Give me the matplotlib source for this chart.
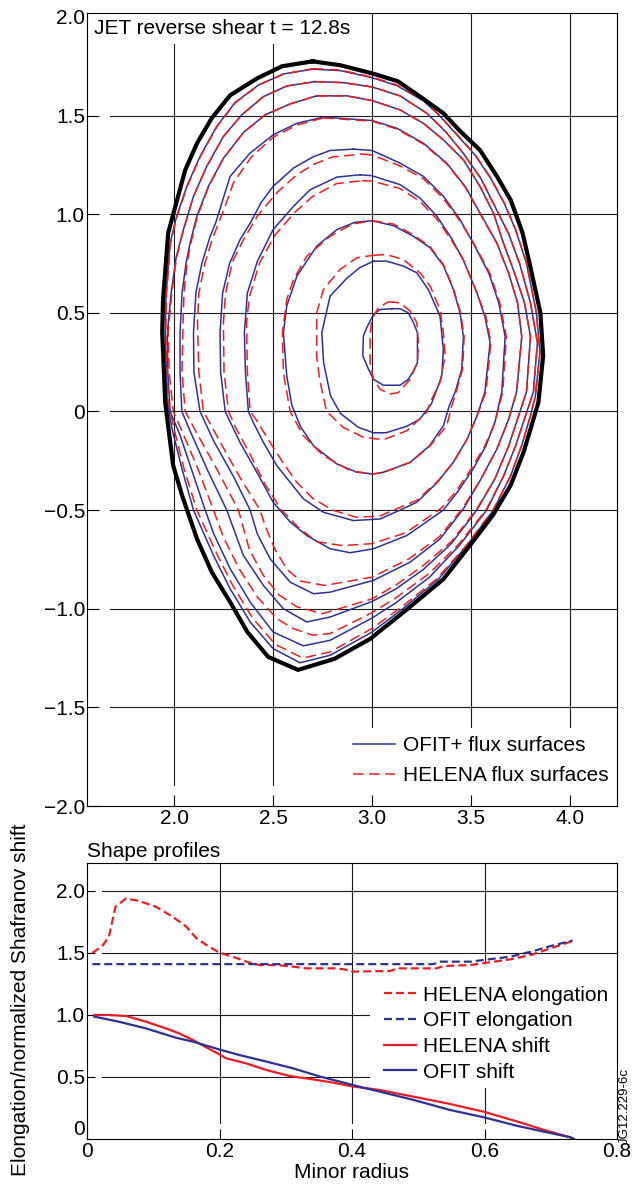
import matplotlib
matplotlib.use("Agg")
import matplotlib.pyplot as plt
from matplotlib.patches import Rectangle

plt.rcParams['font.family'] = ['Liberation Sans', 'DejaVu Sans']
plt.rcParams['font.size'] = 15

BLUE = '#2e3192'
RED = '#ed1c24'
GRID = '#1a1a1a'

# ---- top panel: flux surfaces (R, Z) ----
boundary = [(2.70, 1.775), (2.84, 1.755), (3.00, 1.714), (3.13, 1.674), (3.24, 1.598), (3.36, 1.512),
            (3.44, 1.426), (3.545, 1.325), (3.63, 1.193), (3.70, 1.072), (3.76, 0.905), (3.80, 0.73),
            (3.85, 0.50), (3.864, 0.283), (3.84, 0.046), (3.81, -0.056), (3.765, -0.207), (3.70, -0.374),
            (3.61, -0.526), (3.495, -0.678), (3.36, -0.85), (3.18, -1.00), (2.99, -1.153), (2.81, -1.254),
            (2.626, -1.31), (2.475, -1.244), (2.37, -1.118), (2.283, -0.966), (2.19, -0.814), (2.116, -0.647),
            (2.04, -0.425), (1.995, -0.273), (1.955, 0.046), (1.94, 0.40), (1.944, 0.566), (1.97, 0.905),
            (2.015, 1.072), (2.056, 1.224), (2.116, 1.36), (2.19, 1.487), (2.283, 1.603), (2.42, 1.689),
            (2.545, 1.75), (2.70, 1.775)]

ofit_1 = [(2.70, 1.735), (2.84, 1.728), (3.00, 1.692), (3.125, 1.652), (3.259, 1.575), (3.34, 1.50),
          (3.43, 1.40), (3.52, 1.30), (3.60, 1.18), (3.67, 1.05), (3.725, 0.92), (3.78, 0.75), (3.83, 0.50),
          (3.848, 0.30), (3.825, 0.08), (3.80, -0.022), (3.755, -0.174), (3.70, -0.325), (3.613, -0.50),
          (3.48, -0.678), (3.335, -0.85), (3.155, -1.00), (3.00, -1.118), (2.788, -1.236), (2.636, -1.274),
          (2.50, -1.202), (2.384, -1.067), (2.283, -0.899), (2.199, -0.73), (2.098, -0.50), (2.04, -0.292),
          (1.99, -0.09), (1.965, 0.05), (1.955, 0.40), (1.96, 0.60), (1.98, 0.855), (2.013, 0.99),
          (2.064, 1.141), (2.131, 1.293), (2.215, 1.445), (2.308, 1.566), (2.426, 1.655), (2.552, 1.711),
          (2.70, 1.735)]
ofit_2 = [(2.71, 1.672), (2.855, 1.667), (3.0, 1.645), (3.141, 1.60), (3.276, 1.512), (3.37, 1.42),
          (3.46, 1.31), (3.55, 1.18), (3.62, 1.04), (3.69, 0.90), (3.745, 0.75), (3.80, 0.55), (3.835, 0.35),
          (3.815, 0.10), (3.775, -0.022), (3.725, -0.174), (3.665, -0.325), (3.579, -0.50), (3.44, -0.68),
          (3.29, -0.84), (3.12, -0.97), (3.0, -1.047), (2.788, -1.16), (2.653, -1.188), (2.50, -1.118),
          (2.384, -0.966), (2.283, -0.797), (2.20, -0.62), (2.157, -0.50), (2.09, -0.30), (2.03, -0.12),
          (1.98, 0.0), (1.968, 0.20), (1.966, 0.40), (1.985, 0.60), (2.01, 0.78), (2.047, 0.922),
          (2.098, 1.091), (2.165, 1.243), (2.249, 1.394), (2.342, 1.504), (2.451, 1.596), (2.569, 1.65),
          (2.71, 1.672)]
ofit_3 = [(2.72, 1.60), (2.872, 1.60), (3.0, 1.576), (3.141, 1.529), (3.259, 1.461), (3.36, 1.377),
          (3.461, 1.276), (3.545, 1.141), (3.613, 1.006), (3.663, 0.855), (3.72, 0.70), (3.77, 0.55),
          (3.80, 0.38), (3.78, 0.10), (3.74, -0.022), (3.69, -0.174), (3.62, -0.342), (3.529, -0.50),
          (3.40, -0.67), (3.26, -0.80), (3.12, -0.90), (3.0, -0.963), (2.788, -1.042), (2.67, -1.067),
          (2.552, -1.0), (2.451, -0.882), (2.35, -0.73), (2.266, -0.50), (2.17, -0.30), (2.09, -0.12),
          (2.039, 0.0), (2.03, 0.20), (2.03, 0.40), (2.04, 0.60), (2.06, 0.75), (2.081, 0.855), (2.115, 0.99),
          (2.173, 1.141), (2.249, 1.284), (2.35, 1.414), (2.46, 1.504), (2.586, 1.559), (2.72, 1.60)]
ofit_4 = [(2.754, 1.492), (3.0, 1.475), (3.125, 1.436), (3.259, 1.36), (3.377, 1.259), (3.47, 1.141),
          (3.545, 1.006), (3.63, 0.855), (3.69, 0.70), (3.735, 0.55), (3.756, 0.38), (3.73, 0.10),
          (3.69, -0.039), (3.63, -0.191), (3.55, -0.342), (3.461, -0.494), (3.343, -0.646), (3.192, -0.764),
          (3.007, -0.856), (2.788, -0.916), (2.704, -0.924), (2.586, -0.865), (2.485, -0.747), (2.42, -0.62),
          (2.384, -0.50), (2.30, -0.33), (2.20, -0.15), (2.131, 0.0), (2.10, 0.20), (2.098, 0.40),
          (2.11, 0.60), (2.14, 0.75), (2.182, 0.888), (2.21, 0.956), (2.245, 1.07), (2.283, 1.192),
          (2.384, 1.31), (2.50, 1.402), (2.62, 1.461), (2.754, 1.492)]
ofit_5 = [(2.906, 1.33), (3.0, 1.323), (3.141, 1.259), (3.259, 1.192), (3.36, 1.091), (3.444, 0.973),
          (3.51, 0.855), (3.59, 0.70), (3.64, 0.55), (3.672, 0.38), (3.655, 0.10), (3.62, -0.056),
          (3.575, -0.174), (3.51, -0.292), (3.43, -0.41), (3.36, -0.50), (3.175, -0.629), (3.007, -0.696),
          (2.889, -0.716), (2.788, -0.696), (2.67, -0.629), (2.586, -0.56), (2.50, -0.46), (2.418, -0.308),
          (2.333, -0.157), (2.258, 0.0), (2.235, 0.20), (2.232, 0.40), (2.245, 0.60), (2.28, 0.75),
          (2.333, 0.871), (2.385, 0.956), (2.44, 1.06), (2.50, 1.141), (2.603, 1.234), (2.70, 1.29),
          (2.788, 1.323), (2.906, 1.33)]
ofit_6 = [(2.939, 1.20), (3.0, 1.195), (3.141, 1.15), (3.242, 1.082), (3.327, 0.99), (3.40, 0.88),
          (3.46, 0.77), (3.53, 0.60), (3.57, 0.48), (3.596, 0.35), (3.57, 0.10), (3.53, -0.022),
          (3.48, -0.14), (3.41, -0.258), (3.33, -0.359), (3.226, -0.46), (3.141, -0.50), (3.04, -0.545),
          (2.906, -0.553), (2.754, -0.511), (2.653, -0.443), (2.586, -0.359), (2.519, -0.275),
          (2.451, -0.157), (2.40, -0.056), (2.375, 0.0), (2.36, 0.20), (2.355, 0.40), (2.37, 0.60),
          (2.42, 0.76), (2.50, 0.922), (2.603, 1.04), (2.687, 1.124), (2.822, 1.188), (2.939, 1.20)]
ofit_7 = [(2.998, 0.967), (3.108, 0.942), (3.209, 0.888), (3.293, 0.83), (3.36, 0.74), (3.41, 0.62),
          (3.444, 0.50), (3.461, 0.38), (3.453, 0.214), (3.42, 0.10), (3.39, 0.029), (3.36, -0.072),
          (3.29, -0.174), (3.192, -0.258), (3.057, -0.308), (3.007, -0.317), (2.923, -0.308),
          (2.822, -0.266), (2.704, -0.174), (2.64, -0.08), (2.595, 0.03), (2.569, 0.181), (2.552, 0.40),
          (2.569, 0.535), (2.62, 0.686), (2.72, 0.838), (2.822, 0.922), (2.914, 0.959), (2.998, 0.967)]
ofit_8 = [(3.007, 0.762), (3.074, 0.762), (3.158, 0.737), (3.226, 0.703), (3.284, 0.618), (3.343, 0.484),
          (3.36, 0.315), (3.352, 0.18), (3.30, 0.04), (3.24, -0.04), (3.175, -0.075), (3.07, -0.108),
          (3.007, -0.108), (2.93, -0.08), (2.84, -0.01), (2.79, 0.08), (2.755, 0.248), (2.746, 0.40),
          (2.788, 0.585), (2.872, 0.675), (2.939, 0.73), (3.007, 0.762)]
ofit_9 = [(3.10, 0.521), (3.141, 0.521), (3.183, 0.50), (3.209, 0.45), (3.229, 0.40), (3.229, 0.248),
          (3.209, 0.206), (3.183, 0.163), (3.141, 0.133), (3.057, 0.133), (3.007, 0.163), (2.982, 0.214),
          (2.953, 0.282), (2.956, 0.383), (2.973, 0.425), (3.007, 0.492), (3.04, 0.517), (3.10, 0.521)]

helena_1 = [(2.70, 1.738), (2.84, 1.731), (3.0, 1.695), (3.125, 1.655), (3.259, 1.578), (3.34, 1.503),
            (3.43, 1.403), (3.52, 1.303), (3.60, 1.183), (3.67, 1.053), (3.725, 0.923), (3.78, 0.753),
            (3.83, 0.50), (3.848, 0.30), (3.825, 0.08), (3.80, -0.022), (3.755, -0.174), (3.70, -0.325),
            (3.61, -0.50), (3.475, -0.68), (3.325, -0.85), (3.15, -0.99), (3.0, -1.10), (2.788, -1.219),
            (2.65, -1.25), (2.51, -1.18), (2.395, -1.045), (2.295, -0.88), (2.21, -0.71), (2.115, -0.50),
            (2.05, -0.29), (2.00, -0.09), (1.97, 0.05), (1.958, 0.40), (1.962, 0.60), (1.982, 0.855),
            (2.015, 0.99), (2.066, 1.141), (2.133, 1.293), (2.217, 1.445), (2.31, 1.566), (2.428, 1.655),
            (2.554, 1.711), (2.70, 1.738)]
helena_2 = [(2.71, 1.672), (2.855, 1.667), (3.0, 1.645), (3.141, 1.60), (3.276, 1.512), (3.37, 1.42),
            (3.46, 1.31), (3.55, 1.18), (3.62, 1.04), (3.69, 0.90), (3.745, 0.75), (3.80, 0.55),
            (3.835, 0.35), (3.815, 0.10), (3.775, -0.022), (3.725, -0.174), (3.665, -0.325), (3.575, -0.50),
            (3.44, -0.67), (3.29, -0.82), (3.12, -0.945), (3.0, -1.02), (2.788, -1.126), (2.70, -1.134),
            (2.60, -1.10), (2.519, -1.05), (2.42, -0.94), (2.33, -0.80), (2.25, -0.64), (2.199, -0.50),
            (2.12, -0.29), (2.04, -0.10), (1.996, 0.0), (1.975, 0.20), (1.97, 0.40), (1.988, 0.60),
            (2.012, 0.78), (2.048, 0.922), (2.098, 1.091), (2.165, 1.243), (2.249, 1.394), (2.342, 1.504),
            (2.451, 1.596), (2.569, 1.65), (2.71, 1.672)]
helena_3 = [(2.72, 1.60), (2.872, 1.60), (3.0, 1.576), (3.141, 1.529), (3.259, 1.461), (3.36, 1.377),
            (3.461, 1.276), (3.545, 1.141), (3.613, 1.006), (3.663, 0.855), (3.72, 0.70), (3.77, 0.55),
            (3.80, 0.38), (3.78, 0.10), (3.74, -0.022), (3.69, -0.174), (3.62, -0.342), (3.525, -0.50),
            (3.40, -0.66), (3.26, -0.78), (3.12, -0.88), (3.0, -0.95), (2.75, -1.025), (2.62, -0.99),
            (2.53, -0.93), (2.45, -0.83), (2.38, -0.70), (2.325, -0.50), (2.22, -0.30), (2.12, -0.12),
            (2.056, 0.0), (2.04, 0.20), (2.045, 0.45), (2.05, 0.60), (2.065, 0.75), (2.085, 0.855),
            (2.118, 0.99), (2.175, 1.141), (2.25, 1.284), (2.35, 1.414), (2.46, 1.504), (2.586, 1.559),
            (2.72, 1.60)]
helena_4 = [(2.754, 1.488), (3.0, 1.472), (3.125, 1.432), (3.259, 1.356), (3.377, 1.255), (3.47, 1.138),
            (3.545, 1.003), (3.63, 0.852), (3.69, 0.70), (3.735, 0.55), (3.756, 0.38), (3.73, 0.10),
            (3.69, -0.039), (3.63, -0.191), (3.55, -0.342), (3.455, -0.494), (3.34, -0.635), (3.19, -0.745),
            (3.0, -0.84), (2.76, -0.882), (2.64, -0.86), (2.57, -0.80), (2.51, -0.70), (2.46, -0.58),
            (2.434, -0.50), (2.33, -0.33), (2.23, -0.15), (2.148, 0.0), (2.125, 0.20), (2.118, 0.45),
            (2.125, 0.60), (2.155, 0.75), (2.195, 0.88), (2.25, 1.02), (2.30, 1.16), (2.39, 1.29),
            (2.50, 1.39), (2.62, 1.452), (2.754, 1.488)]
helena_5 = [(2.95, 1.305), (3.0, 1.30), (3.141, 1.245), (3.259, 1.18), (3.36, 1.08), (3.444, 0.965),
            (3.515, 0.85), (3.595, 0.70), (3.645, 0.55), (3.678, 0.38), (3.66, 0.10), (3.62, -0.056),
            (3.57, -0.174), (3.50, -0.292), (3.42, -0.41), (3.35, -0.49), (3.17, -0.615), (3.0, -0.67),
            (2.85, -0.68), (2.72, -0.66), (2.63, -0.59), (2.542, -0.50), (2.46, -0.37), (2.38, -0.21),
            (2.31, -0.08), (2.275, 0.0), (2.252, 0.20), (2.249, 0.45), (2.26, 0.60), (2.295, 0.76),
            (2.35, 0.87), (2.42, 0.99), (2.52, 1.11), (2.62, 1.20), (2.71, 1.255), (2.80, 1.29), (2.95, 1.305)]
helena_6 = [(2.95, 1.17), (3.0, 1.168), (3.141, 1.13), (3.242, 1.065), (3.327, 0.975), (3.40, 0.87),
            (3.46, 0.77), (3.53, 0.60), (3.575, 0.48), (3.60, 0.35), (3.575, 0.10), (3.53, -0.022),
            (3.48, -0.14), (3.41, -0.258), (3.33, -0.355), (3.226, -0.45), (3.04, -0.53), (2.92, -0.536),
            (2.80, -0.50), (2.70, -0.44), (2.62, -0.36), (2.55, -0.26), (2.48, -0.15), (2.42, -0.05),
            (2.384, 0.0), (2.37, 0.20), (2.366, 0.45), (2.38, 0.58), (2.43, 0.75), (2.51, 0.895),
            (2.61, 1.01), (2.70, 1.09), (2.82, 1.155), (2.95, 1.17)]
helena_7 = [(3.0, 0.967), (3.108, 0.95), (3.209, 0.895), (3.293, 0.835), (3.36, 0.745), (3.41, 0.625),
            (3.447, 0.50), (3.465, 0.38), (3.457, 0.214), (3.425, 0.10), (3.40, 0.02), (3.377, -0.072),
            (3.293, -0.174), (3.192, -0.258), (3.057, -0.31), (3.0, -0.317), (2.889, -0.30), (2.754, -0.224),
            (2.653, -0.123), (2.586, 0.0), (2.552, 0.197), (2.547, 0.40), (2.569, 0.568), (2.603, 0.669),
            (2.67, 0.787), (2.788, 0.888), (2.90, 0.95), (3.0, 0.967)]
helena_8 = [(3.007, 0.792), (3.074, 0.795), (3.158, 0.77), (3.242, 0.703), (3.293, 0.636), (3.343, 0.517),
            (3.36, 0.40), (3.369, 0.282), (3.343, 0.147), (3.293, 0.046), (3.276, -0.005), (3.175, -0.098),
            (3.057, -0.143), (2.956, -0.131), (2.855, -0.081), (2.77, 0.0), (2.735, 0.163), (2.72, 0.282),
            (2.72, 0.50), (2.754, 0.618), (2.838, 0.72), (2.923, 0.779), (3.007, 0.792)]
helena_9 = [(3.082, 0.556), (3.141, 0.551), (3.192, 0.509), (3.226, 0.45), (3.234, 0.349), (3.229, 0.248),
            (3.192, 0.163), (3.133, 0.096), (3.091, 0.088), (3.04, 0.113), (3.007, 0.163), (2.99, 0.248),
            (2.99, 0.383), (2.998, 0.467), (3.032, 0.526), (3.082, 0.556)]

ofit_surfaces = [ofit_1, ofit_2, ofit_3, ofit_4, ofit_5, ofit_6, ofit_7, ofit_8, ofit_9]
helena_surfaces = [helena_1, helena_2, helena_3, helena_4, helena_5, helena_6, helena_7, helena_8, helena_9]

r_ticks = [2.0, 2.5, 3.0, 3.5, 4.0]
r_ticklabels = ['2.0', '2.5', '3.0', '3.5', '4.0']
z_ticks = [-2.0, -1.5, -1.0, -0.5, 0.0, 0.5, 1.0, 1.5, 2.0]
z_ticklabels = ['\u22122.0', '\u22121.5', '\u22121.0', '\u22120.5', '0', '0.5', '1.0', '1.5', '2.0']

# ---- bottom panel: shape profiles ----
r_helena_elong = [0.008, 0.023, 0.033, 0.043, 0.059, 0.079, 0.104, 0.129, 0.15, 0.165, 0.18, 0.20, 0.22,
                  0.245, 0.26, 0.286, 0.311, 0.331, 0.377, 0.387, 0.402, 0.458, 0.468, 0.528, 0.538, 0.579,
                  0.604, 0.639, 0.67, 0.70, 0.73, 0.735]
helena_elong = [1.50, 1.556, 1.63, 1.873, 1.94, 1.919, 1.873, 1.793, 1.712, 1.619, 1.565, 1.502, 1.47,
                1.422, 1.403, 1.403, 1.39, 1.376, 1.376, 1.369, 1.35, 1.355, 1.376, 1.376, 1.395, 1.403,
                1.422, 1.449, 1.484, 1.538, 1.591, 1.60]
r_ofit_elong = [0.008, 0.523, 0.533, 0.579, 0.599, 0.639, 0.67, 0.70, 0.733]
ofit_elong = [1.41, 1.41, 1.43, 1.43, 1.444, 1.47, 1.51, 1.556, 1.60]
r_helena_shift = [0.011, 0.033, 0.059, 0.089, 0.119, 0.139, 0.16, 0.18, 0.197, 0.21, 0.24, 0.271, 0.306,
                  0.341, 0.372, 0.397, 0.442, 0.493, 0.543, 0.599, 0.65, 0.69, 0.73, 0.735]
helena_shift = [1.0, 1.0, 0.992, 0.946, 0.892, 0.852, 0.798, 0.739, 0.691, 0.651, 0.61, 0.556, 0.508,
                0.481, 0.454, 0.427, 0.395, 0.341, 0.288, 0.22, 0.14, 0.073, 0.013, 0.0]
r_ofit_shift = [0.011, 0.048, 0.089, 0.134, 0.16, 0.197, 0.23, 0.271, 0.311, 0.352, 0.382, 0.407, 0.442,
                0.493, 0.548, 0.599, 0.65, 0.69, 0.73, 0.735]
ofit_shift = [0.987, 0.946, 0.892, 0.817, 0.785, 0.726, 0.677, 0.624, 0.57, 0.503, 0.462, 0.427, 0.382,
              0.315, 0.234, 0.175, 0.105, 0.059, 0.013, 0.0]

a_ticks = [0.0, 0.2, 0.4, 0.6, 0.8]
a_ticklabels = ['0', '0.2', '0.4', '0.6', '0.8']
v_ticks = [0.0, 0.5, 1.0, 1.5, 2.0]
v_ticklabels = ['0', '0.5', '1.0', '1.5', '2.0']

fig = plt.figure(figsize=(6.32, 11.89), dpi=100)
ax = fig.add_axes([87 / 632, 1 - 806 / 1189, 530 / 632, 793 / 1189])
ax2 = fig.add_axes([87 / 632, 1 - 1139 / 1189, 530 / 632, 276.3 / 1189])

# top panel
for i, s in enumerate(ofit_surfaces):
    r, z = zip(*s)
    ax.plot(r, z, color=BLUE, lw=1.1, zorder=3, label='OFIT+ flux surfaces' if i == 0 else None)
for i, s in enumerate(helena_surfaces):
    r, z = zip(*s)
    ax.plot(r, z, color=RED, lw=1.1, dashes=(7, 3.5), zorder=4,
            label='HELENA flux surfaces' if i == 0 else None)
r, z = zip(*boundary)
ax.plot(r, z, color='black', lw=3.0, zorder=5, solid_joinstyle='round')

ax.set_xlim(1.56, 4.237)
ax.set_ylim(-2.0, 2.02)
ax.set_xticks(r_ticks)
ax.set_xticklabels(r_ticklabels)
ax.set_yticks(z_ticks)
ax.set_yticklabels(z_ticklabels)
ax.tick_params(axis='y', direction='in', length=8.5, width=0.8, pad=1.5)
ax.tick_params(axis='x', direction='in', length=8, width=0.8, pad=2.5)
for rt in r_ticks:
    ax.axvline(rt, ymin=0.026, color=GRID, lw=0.8, zorder=1)
for zt in z_ticks[1:-1]:
    ax.axhline(zt, xmin=0.043, color=GRID, lw=0.8, zorder=1)
for sp in ax.spines.values():
    sp.set_linewidth(0.8)
    sp.set_zorder(7)

ax.text(0.013, 0.981, 'JET reverse shear t = 12.8s', transform=ax.transAxes, ha='left', va='center',
        fontsize=15, zorder=6, clip_on=True,
        bbox=dict(facecolor='white', edgecolor='none', pad=5))
ax.legend(loc='lower right', bbox_to_anchor=(1.0, 0.016), borderaxespad=0, borderpad=0.4,
          frameon=True, fancybox=False, edgecolor='none', facecolor='white', framealpha=1,
          handlelength=2.0, handletextpad=0.4, labelspacing=0.52, fontsize=15)

# bottom panel
ax2.plot(r_helena_elong, helena_elong, color=RED, lw=1.6, dashes=(3.6, 1.8), label='HELENA elongation')
ax2.plot(r_ofit_elong, ofit_elong, color=BLUE, lw=1.6, dashes=(3.6, 1.8), label='OFIT elongation')
ax2.plot(r_helena_shift, helena_shift, color=RED, lw=1.6, label='HELENA shift')
ax2.plot(r_ofit_shift, ofit_shift, color=BLUE, lw=1.6, label='OFIT shift')

ax2.set_xlim(0, 0.8)
ax2.set_ylim(0, 2.228)
ax2.set_xticks(a_ticks)
ax2.set_xticklabels(a_ticklabels)
ax2.set_yticks(v_ticks)
ax2.set_yticklabels(v_ticklabels)
ax2.get_yticklabels()[0].set_va('bottom')
ax2.tick_params(axis='y', direction='in', length=6, width=0.8, pad=1.5)
ax2.tick_params(axis='x', direction='in', length=7, width=0.8, pad=2)
for at in a_ticks[1:-1]:
    ax2.axvline(at, ymin=0.058, color=GRID, lw=0.8, zorder=1)
for vt in v_ticks[1:]:
    ax2.axhline(vt, xmin=0.028, color=GRID, lw=0.8, zorder=1)
for sp in ax2.spines.values():
    sp.set_linewidth(0.8)
ax2.add_patch(Rectangle((0.534, 0.185), 0.466, 0.455, transform=ax2.transAxes,
                        facecolor='white', edgecolor='none', zorder=1.5))
ax2.legend(loc='upper left', bbox_to_anchor=(0.56, 0.555), borderaxespad=0, borderpad=0,
           frameon=False, handlelength=1.55, handletextpad=0.35, labelspacing=0.32, fontsize=15)
ax2.set_title('Shape profiles', loc='left', fontsize=15, pad=4)

fig.text(21 / 632, 1 - 1000 / 1189, 'Elongation/normalized Shafranov shift', rotation=90,
         ha='center', va='center', fontsize=15)
fig.text(352 / 632, 1 - 1172 / 1189, 'Minor radius', ha='center', va='center', fontsize=15)
fig.text(625 / 632, 1 - 1106 / 1189, 'JG12.229-6c', rotation=90, ha='center', va='center', fontsize=9.5)

fig.savefig('out.png', dpi=100)
